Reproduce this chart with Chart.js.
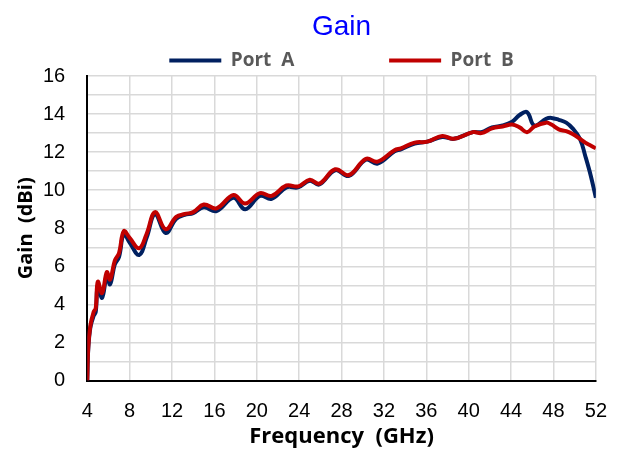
<!DOCTYPE html>
<html>
<head>
<meta charset="utf-8">
<script src="https://cdn.jsdelivr.net/npm/chart.js@4.4.0/dist/chart.umd.min.js"></script>
<style>
  html, body { margin: 0; padding: 0; background: #fff; }
  #wrap { width: 618px; height: 453px; }
</style>
</head>
<body>
<div id="wrap"><canvas id="gain"></canvas></div>
<script>
// frequency points (GHz)
const freq = [4.0, 4.1, 4.3, 4.6, 4.8, 5.0, 5.4, 5.85, 6.15, 6.6, 7.0, 7.45, 8.0, 8.9, 9.6,
  10.4, 11.4, 12.4, 13.2, 14.0, 15.0, 16.2, 17.8, 18.9, 20.3, 21.4, 22.8, 23.9, 25.0, 25.9,
  27.4, 28.7, 30.3, 31.4, 33.0, 33.6, 34.9, 36.1, 37.5, 38.6, 40.4, 41.2, 42.2, 43.2, 44.1,
  44.8, 45.5, 46.2, 47.3, 47.8, 48.5, 49.2, 49.8, 50.5, 51.0, 51.5, 52.0];

const portA = [0, 1.7, 2.8, 3.4, 3.6, 5.0, 4.35, 5.5, 5.05, 6.1, 6.5, 7.7, 7.25, 6.6, 7.5,
  8.75, 7.75, 8.5, 8.7, 8.8, 9.1, 8.9, 9.6, 9.0, 9.7, 9.55, 10.15, 10.15, 10.5, 10.3,
  11.05, 10.75, 11.6, 11.4, 12.05, 12.15, 12.45, 12.55, 12.8, 12.7, 13.05, 13.05, 13.3, 13.4, 13.6,
  13.95, 14.1, 13.4, 13.75, 13.8, 13.7, 13.55, 13.25, 12.7, 11.8, 10.8, 9.6];

const portB = [0, 1.8, 2.9, 3.6, 3.8, 5.2, 4.6, 5.7, 5.3, 6.3, 6.7, 7.85, 7.5, 6.95, 7.7,
  8.85, 7.95, 8.6, 8.75, 8.85, 9.25, 9.05, 9.75, 9.3, 9.85, 9.7, 10.25, 10.2, 10.55, 10.35,
  11.1, 10.8, 11.65, 11.5, 12.1, 12.2, 12.5, 12.55, 12.85, 12.7, 13.05, 13.0, 13.25, 13.35, 13.45,
  13.3, 13.05, 13.35, 13.55, 13.45, 13.2, 13.1, 12.95, 12.7, 12.5, 12.35, 12.2];

const xTicks = { min: 4, max: 52, step: 4 };
const yTicks = { min: 0, max: 16, step: 1 };

const navy = '#002060';
const red = '#c00000';
const gridGrey = '#d9d9d9';

function pts(ys) {
  return freq.map((f, i) => ({ x: f, y: ys[i] }));
}

// legend box sits a bit tighter to the plot than chart.js allows by default
const tightLegend = {
  id: 'tightLegend',
  beforeInit(chart) {
    const fit = chart.legend.fit;
    chart.legend.fit = function () {
      fit.call(this);
      this.height -= 4;
    };
  }
};

new Chart(document.getElementById('gain'), {
  type: 'scatter',
  data: {
    datasets: [
      { label: 'Port  A', data: pts(portA), borderColor: navy, backgroundColor: navy,
        showLine: true, borderWidth: 4, pointRadius: 0, tension: 0.4, order: 1 },
      { label: 'Port  B', data: pts(portB), borderColor: red, backgroundColor: red,
        showLine: true, borderWidth: 4, pointRadius: 0, tension: 0.4, order: 0 }
    ]
  },
  plugins: [tightLegend],
  options: {
    responsive: true,
    maintainAspectRatio: false,
    animation: false,
    layout: { padding: { left: 12, right: 21, top: 6, bottom: 0 } },
    plugins: {
      title: {
        display: true, text: 'Gain', color: '#0000ff', fullSize: false,
        font: { family: 'Liberation Sans', size: 28, weight: 'normal', lineHeight: 1.0 },
        padding: { top: 7, bottom: 9 }
      },
      legend: {
        fullSize: false,
        labels: {
          boxWidth: 52, boxHeight: 4, padding: 1,
          color: '#595959',
          font: { family: 'Open Sans', size: 19, weight: 'bold' },
          sort: (a, b) => a.datasetIndex - b.datasetIndex,
          generateLabels(chart) {
            const items = Chart.defaults.plugins.legend.labels.generateLabels(chart);
            items.forEach(it => { it.lineWidth = 0; });
            items.sort((a, b) => a.datasetIndex - b.datasetIndex);
            items[0].text = items[0].text + '\u00a0'.repeat(19);
            return items;
          }
        }
      },
      tooltip: { enabled: false }
    },
    scales: {
      x: {
        type: 'linear', min: xTicks.min, max: xTicks.max,
        ticks: { stepSize: xTicks.step, color: '#000', padding: 11,
          font: { family: 'Liberation Sans', size: 20, lineHeight: 2.0 } },
        grid: { color: gridGrey, lineWidth: 1.5, drawTicks: false },
        border: { color: '#000', width: 2 },
        title: { display: true, text: 'Frequency  (GHz)', color: '#000', padding: { top: -19, bottom: 3 },
          font: { family: 'Open Sans', size: 22, weight: 'bold' } }
      },
      y: {
        min: yTicks.min, max: yTicks.max,
        ticks: { stepSize: yTicks.step, autoSkip: false, color: '#000', padding: 22,
          font: { family: 'Liberation Sans', size: 20 },
          callback: v => (v % 2 === 0 ? v : '') },
        grid: { color: gridGrey, lineWidth: 1.5, drawTicks: false },
        border: { color: '#000', width: 2 },
        title: { display: true, text: 'Gain  (dBi)', color: '#000', padding: { top: 2, bottom: -17 },
          font: { family: 'Open Sans', size: 20, weight: 'bold' } }
      }
    }
  }
});
</script>
</body>
</html>
